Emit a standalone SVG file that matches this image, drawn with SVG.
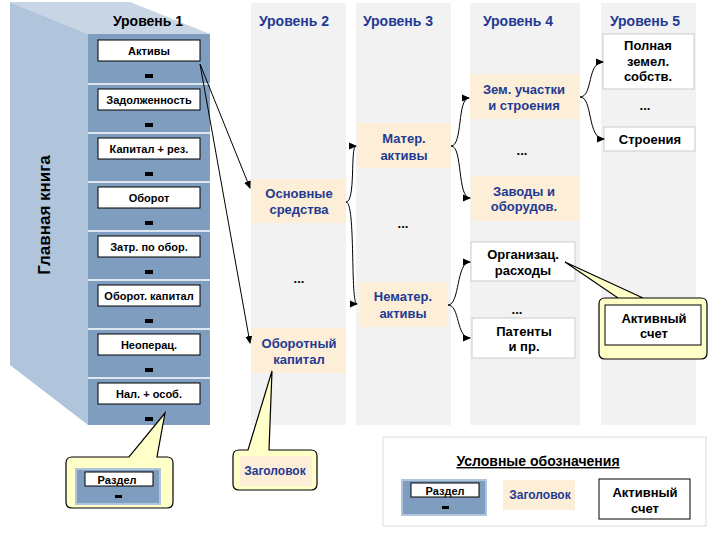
<svg xmlns="http://www.w3.org/2000/svg" width="720" height="540" viewBox="0 0 720 540">
<defs>
<style>
text{font-family:"Liberation Sans",Arial,sans-serif;font-weight:bold;text-anchor:middle}
.col{fill:#F2F2F2}
.hd{fill:#1F3A93;font-size:14px}
.hb{fill:#FDEED8}
.ht{fill:#1F3A93;font-size:13px}
.wb{fill:#fff;stroke:#ccc}
.wt{fill:#000;font-size:13px}
.sb{fill:#fff;stroke:#000}
.st{fill:#000;font-size:11px}
.dash{fill:#000}
.call{fill:#FFFFC8;stroke:#000;stroke-width:1.2}
.cn{fill:none;stroke:#000;stroke-width:1}
</style>
<marker id="ar" markerWidth="8" markerHeight="8" refX="7" refY="4" orient="auto" markerUnits="userSpaceOnUse"><path d="M0,0.5 L8,4 L0,7.5z" fill="#000"/></marker>
</defs>
<rect width="720" height="540" fill="#fff"/>
<g id="columns">
<rect class="col" x="251" y="3" width="95" height="422"/>
<rect class="col" x="356" y="3" width="95" height="422"/>
<rect class="col" x="470" y="3" width="110" height="422"/>
<rect class="col" x="601" y="3" width="95" height="422"/>
<text class="hd" x="294" y="26">Уровень 2</text>
<text class="hd" x="398" y="26">Уровень 3</text>
<text class="hd" x="518" y="26">Уровень 4</text>
<text class="hd" x="645" y="26">Уровень 5</text>
</g>
<g id="book">
<polygon points="10,2 130,2 210,34 88,34" fill="#C7D5E5"/>
<polygon points="10,2 88,34 88,425 10,365" fill="#B0C4DC"/>
<rect x="88" y="34" width="122" height="391" fill="#7F9DBF"/>
<text x="148" y="26" font-size="14" fill="#000">Уровень 1</text>
<text transform="translate(50,215) rotate(-90)" font-size="17" fill="#000">Главная книга</text>
<g stroke="#fff" stroke-width="1.5">
<line x1="88" y1="84" x2="210" y2="84"/><line x1="88" y1="133" x2="210" y2="133"/><line x1="88" y1="182" x2="210" y2="182"/><line x1="88" y1="231" x2="210" y2="231"/><line x1="88" y1="280" x2="210" y2="280"/><line x1="88" y1="329" x2="210" y2="329"/><line x1="88" y1="378" x2="210" y2="378"/>
</g>
</g>
<g id="s1"><rect class="sb" x="98" y="40" width="102" height="21"/><text class="st" x="149" y="55">Активы</text><rect class="dash" x="145" y="74" width="8" height="4"/></g>
<g id="s2"><rect class="sb" x="98" y="89" width="102" height="21"/><text class="st" x="149" y="104">Задолженность</text><rect class="dash" x="145" y="123" width="8" height="4"/></g>
<g id="s3"><rect class="sb" x="98" y="138" width="102" height="21"/><text class="st" x="149" y="153">Капитал + рез.</text><rect class="dash" x="145" y="172" width="8" height="4"/></g>
<g id="s4"><rect class="sb" x="98" y="187" width="102" height="21"/><text class="st" x="149" y="202">Оборот</text><rect class="dash" x="145" y="221" width="8" height="4"/></g>
<g id="s5"><rect class="sb" x="98" y="236" width="102" height="21"/><text class="st" x="149" y="251">Затр. по обор.</text><rect class="dash" x="145" y="270" width="8" height="4"/></g>
<g id="s6"><rect class="sb" x="98" y="285" width="102" height="21"/><text class="st" x="149" y="300">Оборот. капитал</text><rect class="dash" x="145" y="319" width="8" height="4"/></g>
<g id="s7"><rect class="sb" x="98" y="334" width="102" height="21"/><text class="st" x="149" y="349">Неоперац.</text><rect class="dash" x="145" y="368" width="8" height="4"/></g>
<g id="s8"><rect class="sb" x="98" y="383" width="102" height="21"/><text class="st" x="149" y="398">Нал. + особ.</text><rect class="dash" x="145" y="417" width="8" height="4"/></g>

<g id="osn"><rect class="hb" x="251" y="179" width="95" height="44"/><text class="ht" x="299" y="198">Основные</text><text class="ht" x="299" y="214">средства</text></g>
<g id="obk"><rect class="hb" x="251" y="328" width="95" height="45"/><text class="ht" x="299" y="348">Оборотный</text><text class="ht" x="299" y="364">капитал</text></g>
<text class="wt" x="299" y="283">...</text>
<g id="mat"><rect class="hb" x="357" y="123" width="94" height="45"/><text class="ht" x="404" y="143">Матер.</text><text class="ht" x="404" y="160">активы</text></g>
<g id="nemat"><rect class="hb" x="360" y="282" width="87" height="45"/><text class="ht" x="403" y="301">Нематер.</text><text class="ht" x="403" y="318">активы</text></g>
<text class="wt" x="403" y="228">...</text>
<g id="zem"><rect class="hb" x="470" y="74" width="110" height="45"/><text class="ht" x="524" y="94">Зем. участки</text><text class="ht" x="524" y="110">и строения</text></g>
<g id="zav"><rect class="hb" x="471" y="176" width="109" height="45"/><text class="ht" x="524" y="196">Заводы и</text><text class="ht" x="524" y="211">оборудов.</text></g>
<text class="wt" x="522" y="155">...</text>
<g id="org"><rect class="wb" x="471" y="242" width="104" height="39"/><text class="wt" x="523" y="259">Организац.</text><text class="wt" x="523" y="275">расходы</text></g>
<g id="pat"><rect class="wb" x="472" y="318" width="103" height="40"/><text class="wt" x="524" y="336">Патенты</text><text class="wt" x="524" y="351">и пр.</text></g>
<text class="wt" x="517" y="314">...</text>
<g id="poln"><rect class="wb" x="603" y="34" width="91" height="55"/><text class="wt" x="648" y="50">Полная</text><text class="wt" x="648" y="66">земел.</text><text class="wt" x="648" y="81">собств.</text></g>
<g id="str"><rect class="wb" x="604" y="127" width="91" height="24"/><text class="wt" x="650" y="144">Строения</text></g>
<text class="wt" x="645" y="110">...</text>

<g id="connectors">
<line class="cn" x1="200" y1="64" x2="250" y2="188" marker-end="url(#ar)"/>
<line class="cn" x1="200" y1="64" x2="250" y2="343" marker-end="url(#ar)"/>
<path class="cn" d="M346,202 C356,202 350,146 356,146" marker-end="url(#ar)"/>
<path class="cn" d="M346,202 C356,202 350,304 357,304" marker-end="url(#ar)"/>
<path class="cn" d="M451,146 C463,146 457,98 469,98" marker-end="url(#ar)"/>
<path class="cn" d="M451,146 C463,146 457,198 470,198" marker-end="url(#ar)"/>
<path class="cn" d="M448,305 C460,305 456,262 470,262" marker-end="url(#ar)"/>
<path class="cn" d="M448,305 C460,305 456,338 470,338" marker-end="url(#ar)"/>
<path class="cn" d="M580,97 C593,97 587,62 603,62" marker-end="url(#ar)"/>
<path class="cn" d="M580,97 C593,97 587,139 604,139" marker-end="url(#ar)"/>
</g>

<g id="callout-razdel">
<path class="call" d="M76,457 H129 L165,413 L157,457 H167 Q173,457 173,463 V502 Q173,508 167,508 H72 Q66,508 66,502 V463 Q66,457 72,457 Z"/>
<rect x="76" y="469" width="84" height="35" fill="#7F9DBF" stroke="#B0C4DC" stroke-width="2"/>
<rect class="sb" x="85" y="472" width="68" height="14"/><text class="st" x="117" y="484">Раздел</text>
<rect class="dash" x="115" y="495" width="7" height="3"/>
</g>
<g id="callout-zag">
<path class="call" d="M239,450 H248 L272,371 L269,450 H311 Q317,450 317,456 V484 Q317,490 311,490 H239 Q233,490 233,484 V456 Q233,450 239,450 Z"/>
<rect class="hb" x="240" y="456" width="72" height="30"/>
<text x="275" y="475" font-size="12" fill="#1F3A93">Заголовок</text>
</g>
<g id="callout-akt">
<path class="call" d="M605,298 H643 L565,262 L618,298 H701 Q707,298 707,304 V353 Q707,359 701,359 H605 Q599,359 599,353 V304 Q599,298 605,298 Z"/>
<rect class="sb" x="605" y="305" width="96" height="40"/>
<text class="wt" x="654" y="323">Активный</text><text class="wt" x="654" y="338">счет</text>
</g>

<g id="legend">
<rect x="383" y="437" width="323" height="89" fill="#fff" stroke="#ddd"/>
<text x="538" y="466" font-size="14" fill="#000" text-decoration="underline">Условные обозначения</text>
<rect x="402" y="480" width="84" height="35" fill="#7F9DBF" stroke="#B0C4DC" stroke-width="2"/>
<rect class="sb" x="411" y="483" width="68" height="14"/><text class="st" x="445" y="495">Раздел</text>
<rect class="dash" x="442" y="506" width="7" height="3"/>
<rect class="hb" x="503" y="480" width="72" height="30"/>
<text x="540" y="499" font-size="12" fill="#1F3A93">Заголовок</text>
<rect class="sb" x="599" y="479" width="91" height="40"/>
<text class="wt" x="645" y="497">Активный</text><text class="wt" x="645" y="513">счет</text>
</g>
</svg>
